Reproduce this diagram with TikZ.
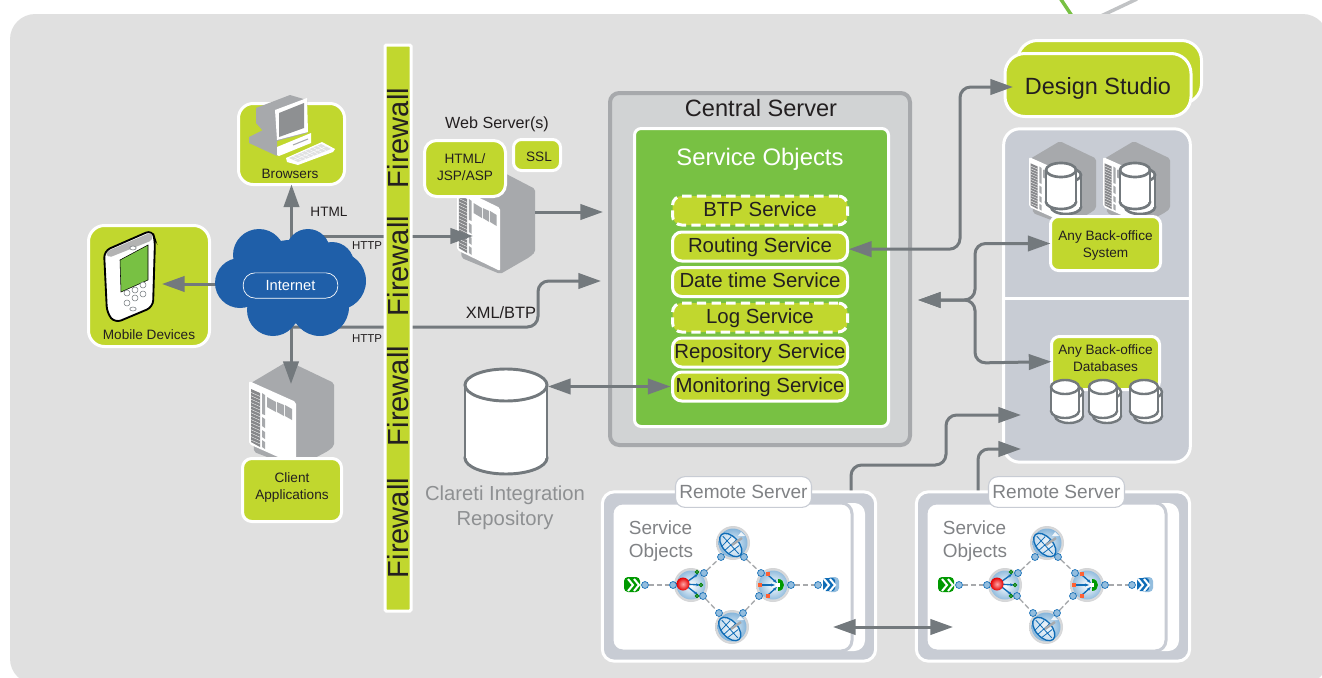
\documentclass[tikz,border=0pt]{standalone}
\usepackage{fontspec}
\setmainfont{Liberation Sans}
\usetikzlibrary{arrows.meta,calc}
\definecolor{panelgrey}{HTML}{E0E0E0}
\definecolor{limec}{HTML}{C1D72E}
\definecolor{greenc}{HTML}{78C143}
\definecolor{arrowc}{HTML}{73797D}
\definecolor{centralc}{HTML}{D1D3D4}
\definecolor{centraledge}{HTML}{A7A9AC}
\definecolor{bluepanel}{HTML}{C8CCD4}
\definecolor{inkc}{HTML}{231F20}
\definecolor{softtext}{HTML}{808285}
\definecolor{cloudc}{HTML}{1F5FA9}
\definecolor{dishc}{HTML}{0F6CB6}
\newcommand{\fs}[2]{\fontsize{#1}{#2}\selectfont}
\tikzset{
  sz/.style 2 args={minimum width=(#1-3)*0.75pt,minimum height=(#2-3)*0.75pt},
  limebox/.style={draw=white,fill=limec,line width=2.25pt,inner sep=0pt,outer sep=0pt,rounded corners=6pt,text=inkc,align=center},
  svcbox/.style={limebox,rounded corners=7pt,font=\fs{15.3}{18},text height=11.4pt,text depth=3pt},
  svcdash/.style={svcbox,dash pattern=on 7pt off 4pt},
  ghost/.style={inner sep=0pt,outer sep=0pt},
  wire/.style={draw=arrowc,line width=2.25pt,rounded corners=8pt,-{Triangle[length=17pt,width=11.5pt]}},
  wiretwo/.style={draw=arrowc,line width=2.25pt,rounded corners=8pt,{Triangle[length=17pt,width=11.5pt]}-{Triangle[length=17pt,width=11.5pt]}},
  smalltext/.style={text=inkc,inner sep=0pt,font=\fs{10.2}{12.75},align=center},
  httptext/.style={text=inkc,inner sep=0pt,font=\fs{8.6}{10}},
  softlabel/.style={text=softtext,inner sep=0pt,align=center},
  fwtext/.style={rotate=90,text=inkc,inner sep=0pt,font=\fs{21.8}{24}},
  cylline/.style={draw=arrowc,line width=#1},
  port/.style={circle,fill=dishc!45,draw=dishc,line width=.5pt,minimum size=5.2pt,inner sep=0pt},
  linkdash/.style={draw=centraledge,line width=1pt,dash pattern=on 4pt off 2pt},
}
% centre x, top y, width, height, ellipse radius, line width
\newcommand{\cylinderpic}[6]{%
  \path[fill=white,cylline=#6] (#1,#2+#4-#5) ellipse [x radius=#3/2,y radius=#5];
  \fill[white] (#1-#3/2,#2+#5) rectangle (#1+#3/2,#2+#4-#5);
  \draw[cylline=#6] (#1-#3/2,#2+#5) -- (#1-#3/2,#2+#4-#5) (#1+#3/2,#2+#5) -- (#1+#3/2,#2+#4-#5);
  \path[fill=white,cylline=#6] (#1,#2+#5) ellipse [x radius=#3/2,y radius=#5];
}
% server tower: left corner x, y, x scale, y scale
\newcommand{\serverpic}[4]{%
  \begin{scope}[shift={(#1,#2)},xscale=#3,yscale=#4]
    \fill[centraledge,rounded corners=1.5pt] (2,2) -- (39,-20) -- (85,2) -- (85,65) -- (79,70) -- (47,87) -- (5,71) -- cycle;
    \fill[white,rounded corners=1.5pt] (0,0) -- (47,21) -- (47,84) -- (0,63) -- cycle;
    \fill[centraledge!80!black] (2,8) -- (11,12) -- (11,66) -- (2,61) -- cycle;
    \foreach \k in {1,...,15} {\draw[white,line width=.25pt] (2,{8+\k*3.4}) -- (11,{12+\k*3.4});}
    \fill[centraledge] (13,12) -- (16,14) -- (16,34) -- (13,33) -- cycle;
    \fill[centraledge] (18,16) -- (27,21) -- (27,31) -- (18,26) -- cycle;
    \fill[centraledge] (28,21) -- (35,24) -- (35,35) -- (28,31) -- cycle;
    \fill[centraledge] (36,24) -- (43,28) -- (43,39) -- (36,35) -- cycle;
    \fill[centraledge] (13,36) -- (16,38) -- (16,47) -- (13,45) -- cycle;
    \fill[centraledge] (13,49) -- (16,51) -- (16,58) -- (13,56) -- cycle;
    \fill[centraledge] (13,59) -- (16,61) -- (16,68) -- (13,66) -- cycle;
  \end{scope}%
}
\newcommand{\dishpic}[2]{%
  \begin{scope}[shift={(#1,#2)}]
    \shade[inner color=white,outer color=centraledge!50] (0,0) circle [radius=17];
    \shade[inner color=dishc!10,outer color=dishc!50] (0,0) circle [radius=14.5];
    \begin{scope}[rotate=-48]
      \fill[white,opacity=.5] (0,3) ellipse [x radius=14,y radius=8];
      \draw[dishc,line width=1pt] (0,3) ellipse [x radius=14,y radius=8];
      \draw[dishc,line width=.6pt] (-6,-3) -- (-5,10) (0,-5) -- (0,11) (6,-3) -- (5,10) (-12,3) -- (12,3);
    \end{scope}
    \draw[centraledge,line width=1.8pt] (-1,2) -- (9,-5);
    \fill[white,opacity=.85] (8,-11) -- (12,-7) -- (5,-7) -- cycle;
  \end{scope}%
}
\newcommand{\hubpic}[2]{%
  \shade[inner color=white,outer color=centraledge!50] (#1,#2) circle [radius=17];
  \shade[inner color=white,outer color=dishc!45] (#1,#2) circle [radius=14.5];
}
\newcommand{\workflow}[2]{%
  \begin{scope}[shift={(#2,0)}]
    \fill[green!60!black,rounded corners=3pt] (624,577) rectangle (640,592);
    \draw[white,line width=1.5pt] (628,579) -- (633,585) -- (628,591) (634,579) -- (639,585) -- (634,591);
    \fill[dishc!45,rounded corners=3pt] (827,577) rectangle (839,592);
    \fill[dishc,rounded corners=2pt] (823,578) rectangle (835,591);
    \draw[white,line width=1.5pt] (824,579) -- (829,585) -- (824,591) (830,579) -- (835,585) -- (830,591);
    \dishpic{733}{543}
    \dishpic{732}{627}
    \hubpic{691}{585}
    \hubpic{773}{585}
    % red start gateway
    \draw[dishc,line width=1pt,-{Stealth[length=3pt]}] (684,584) -- (698,574);
    \draw[dishc,line width=1pt,-{Stealth[length=3pt]}] (684,584) -- (700,585);
    \draw[dishc,line width=1pt,-{Stealth[length=3pt]}] (684,584) -- (698,595);
    \shade[inner color=red!35!white,outer color=red!90!black] (683,584) circle [radius=6.5];
    \draw[green!50!black,line width=.8pt] (697,572) circle [radius=1.6] (701,585) circle [radius=1.6] (697,596) circle [radius=1.6];
    % green end gateway
    \draw[dishc,line width=1pt,-{Stealth[length=3pt]}] (768,575) -- (777,583);
    \draw[dishc,line width=1pt,-{Stealth[length=3pt]}] (761,585) -- (775,585);
    \draw[dishc,line width=1pt,-{Stealth[length=3pt]}] (768,595) -- (777,587);
    \fill[green!60!black] (778,579) .. controls (786,579) and (786,591) .. (778,591) -- cycle;
    \fill[white] (776,583) rectangle (780,587);
    \foreach \px/\py in {768/574,760/585,768/596} {\fill[red!55!orange!80] (\px-1.8,\py-1.8) rectangle (\px+1.8,\py+1.8);}
    % ports and links
    \node[port] (#1a) at (645,585) {};
    \node[port] (#1b) at (673,585) {};
    \node[port] (#1c) at (704,573) {};
    \node[port] (#1d) at (721,557) {};
    \node[port] (#1e) at (744,557) {};
    \node[port] (#1f) at (761,573) {};
    \node[port] (#1g) at (703,596) {};
    \node[port] (#1h) at (719,613) {};
    \node[port] (#1i) at (743,613) {};
    \node[port] (#1j) at (759,596) {};
    \node[port] (#1k) at (791,585) {};
    \node[port] (#1l) at (818,585) {};
    \draw[linkdash] (#1a) -- (#1b);
    \draw[linkdash] (#1c) -- (#1d);
    \draw[linkdash] (#1e) -- (#1f);
    \draw[linkdash] (#1g) -- (#1h);
    \draw[linkdash] (#1i) -- (#1j);
    \draw[linkdash] (#1k) -- (#1l);
  \end{scope}%
}
\begin{document}
\begin{tikzpicture}[x=0.75pt,y=-0.75pt]
\useasboundingbox (0,0) rectangle (1322,678);
\fill[white] (0,0) rectangle (1322,678);
% curves leaving the top of the panel
\draw[greenc,line width=2.6pt] (1060,-2) -- (1072,16);
\draw[centraledge!70,line width=2.6pt] (1101,16) -- (1137,-1);
% main panel
\fill[panelgrey,rounded corners=19pt] (10,14) rectangle (1328,684);

% servers and icons behind the boxes
\serverpic{249}{381}{1}{1}
\node[ghost,minimum width=58.5pt,minimum height=82.5pt] (websrv) at (496,220) {};
\serverpic{457}{187}{.92}{1}

% browsers
\node[limebox,sz={109}{84},rounded corners=11pt] (browsers) at (291.5,144) {};
\node[smalltext] (browsertext) at (290,174) {Browsers};
\fill[centraledge] (256,108) -- (290,95) -- (307,100) -- (307,133) -- (277,141) -- (263,131) -- (256,123) -- cycle;
\fill[centraledge] (249,137) -- (263,130) -- (277,138) -- (277,156) -- (249,143) -- cycle;
\fill[white] (275,110) -- (307,98) -- (308,132) -- (277,140) -- cycle;
\fill[centraledge!85!black] (279,113) -- (304,103) -- (304,128) -- (279,137) -- cycle;
\fill[white] (277,147) -- (311,133) -- (311,143) -- (279,156) -- (277,155) -- cycle;
\draw[centraledge,line width=.8pt] (293,145) -- (308,139);
\fill[white] (286,158) -- (322,142) -- (335,149) -- (333,152) -- (298,165) -- (287,162) -- cycle;
\fill[centraledge!35] (289,158) -- (321,144) -- (331,149) -- (298,162) -- cycle;
\foreach \k in {1,...,7} {\draw[white,line width=.3pt] ({289+\k*4},{158-\k*1.75}) -- ({298+\k*4},{162-\k*1.6});}
\draw[white,line width=.3pt] (294,160) -- (326,146.5);

% mobile devices
\node[limebox,sz={124}{124},rounded corners=12pt] (mobile) at (149,286) {};
\node[smalltext] (mobiletext) at (149,335) {Mobile Devices};
\draw[black,fill=white,line width=1.4pt,rounded corners=5pt] (104,251) -- (152,230) -- (155,240) -- (153,307) -- (115,323) -- (107,313) -- cycle;
\fill[panelgrey!80!black,rounded corners=3pt] (105.5,252) -- (152,232) -- (153,240) -- (108,258) -- cycle;
\fill[greenc,draw=black,line width=.4pt] (120,260) -- (148,245) -- (148,280) -- (121,292) -- cycle;
\foreach \bx/\by in {127/293,135/290,143/285,127/303,135/298,143/294} {\draw[arrowc,line width=.4pt,fill=white] (\bx,\by) circle [radius=3];}
\draw[arrowc,line width=.4pt,fill=white] (133,248) ellipse [x radius=3.2,y radius=2];
\draw[arrowc,line width=.4pt,fill=white] (133,309) ellipse [x radius=3.2,y radius=2];

% client applications
\node[limebox,sz={102}{66},rounded corners=7pt] (client) at (292,490) {};
\node[smalltext] (clienttext) at (292,487.5) {Client\\Applications};

% web server boxes
\node[limebox,sz={84}{59},rounded corners=9pt] (htmlbox) at (465,168.5) {};
\node[smalltext] (htmltext) at (465,167) {HTML/\\JSP/ASP};
\node[limebox,sz={50}{34}] (sslbox) at (537,155) {};
\node[smalltext] (ssltext) at (539,157) {SSL};
\node[text=inkc,inner sep=0pt,font=\fs{12.1}{14}] (webtext) at (497,124.5) {Web Server(s)};

% central server
\node[draw=centraledge,fill=centralc,line width=3pt,minimum width=225pt,minimum height=264pt,rounded corners=7pt,inner sep=0pt] (central) at (760,269) {};
\node[text=inkc,inner sep=0pt,font=\fs{17.7}{20}] (centraltext) at (761,108) {Central Server};
\node[limebox,fill=greenc,sz={257}{301},rounded corners=5pt] (objects) at (761.5,277.5) {};
\node[text=white,inner sep=0pt,font=\fs{17.9}{22}] (objectstext) at (760,159.5) {Service Objects};
\node[svcdash,sz={178}{32}] (btp) at (760,210.5) {BTP Service};
\node[svcbox,sz={178}{32}] (routing) at (760,246.5) {Routing Service};
\node[svcbox,sz={178}{32}] (datetime) at (760,282) {Date time Service};
\node[svcdash,sz={178}{32}] (logsvc) at (760,317.5) {Log Service};
\node[svcbox,sz={178}{32}] (repository) at (760,352.5) {Repository Service};
\node[svcbox,sz={178}{32}] (monitoring) at (760,386.5) {Monitoring Service};

% clareti repository
\node[ghost,minimum width=63pt,minimum height=80pt] (clareti) at (506,421.5) {};
\cylinderpic{506}{369}{82}{105}{16}{2.2pt}
\node[softlabel,text=centraledge!85!black,font=\fs{15.2}{18.75}] (claretitext) at (505,507.5) {Clareti Integration\\Repository};

% design studio
\node[limebox,sz={187}{66},rounded corners=15pt] (dsback) at (1109.5,72) {};
\node[limebox,sz={189}{66},rounded corners=15pt,font=\fs{17.6}{20},text height=14pt,text depth=0pt] (design) at (1098,85) {Design Studio};

% back office panel
\node[draw=white,fill=bluepanel,line width=2.25pt,minimum width=140pt,minimum height=250pt,rounded corners=12pt,inner sep=0pt] (backoffice) at (1097,295.5) {};
\draw[white,line width=2.25pt] (backoffice.west |- 0,298) -- (backoffice.east |- 0,298);
\foreach \sx in {0,74} {
  \serverpic{1029+\sx}{157}{.79}{.79}
  \cylinderpic{1066+\sx}{168}{30}{46}{7}{2pt}
  \cylinderpic{1061+\sx}{163}{30}{46}{7}{2pt}
}
\node[limebox,sz={113}{57}] (bosystem) at (1105.5,243.5) {};
\node[smalltext] (bosystemtext) at (1105.5,245.5) {Any Back-office\\System};
\node[limebox,sz={111}{56}] (bodata) at (1105.5,363) {};
\node[smalltext] (bodatatext) at (1105.5,358) {Any Back-office\\Databases};
\foreach \sx in {1065,1103,1144} {
  \cylinderpic{\sx+4}{385}{28}{38}{7}{1.8pt}
  \cylinderpic{\sx}{380}{28}{38}{7}{1.8pt}
}

% remote servers
\foreach \rn/\rx in {remoteone/739,remotetwo/1053} {
  \node[draw=white,fill=bluepanel,line width=2.25pt,minimum width=205pt,minimum height=127pt,rounded corners=9pt,inner sep=0pt] (\rn) at (\rx,576.5) {};
  \fill[white,rounded corners=8pt] (\rx-127,503) rectangle (\rx+126,651);
  \draw[bluepanel,fill=white,line width=2.25pt,rounded corners=8pt] (\rx-127,503) rectangle (\rx+113,651);
  \node[softlabel,font=\fs{14.2}{17.25},align=left] at (\rx-78,541) {Service\\Objects};
}
\workflow{wa}{0}
\workflow{wb}{314}
\node[draw=bluepanel,fill=white,line width=.8pt,rounded corners=7pt,minimum width=102pt,minimum height=23pt,inner sep=0pt,text=softtext,font=\fs{14.3}{17}] (labelone) at (743.5,492) {Remote Server};
\node[draw=bluepanel,fill=white,line width=.8pt,rounded corners=7pt,minimum width=102pt,minimum height=23pt,inner sep=0pt,text=softtext,font=\fs{14.3}{17}] (labeltwo) at (1056.5,492) {Remote Server};

% connector end points
\node[ghost,minimum width=113pt,minimum height=80pt] (cloud) at (290.5,282.5) {};
\coordinate (mobtip) at (162,284);
\coordinate (cltip) at (291,384);
\coordinate (wsin) at (473,236);
\coordinate (xmlbend) at (538,327);
\coordinate (xmltip) at (601,281);
\coordinate (ctip) at (603,212);
\coordinate (dsturn) at (960,249);
\coordinate (dstip) at (1013,87);
\coordinate (lefttip) at (918,300);
\coordinate (junction) at (975,300);
\coordinate (ra) at (946,465);
\coordinate (ratip) at (1021,415);
\coordinate (rbtip) at (1021,449);
\coordinate (botl) at (833,627);
\coordinate (botr) at (953,627);

% connectors
\draw[wire] (browsers.south |- cloud.center) -- (browsers.south);
\draw[wire] (cloud.center |- mobtip) -- (mobtip);
\draw[wire] (cltip |- cloud.center) -- (cltip);
\draw[wire] (cloud.center |- wsin) -- (wsin);
\draw[wire] (cloud.center |- xmlbend) -- (xmlbend) |- (xmltip);
\draw[wire] (websrv.east |- ctip) -- (ctip);
\draw[wiretwo] (clareti.east |- monitoring.west) -- ([xshift=-1.5pt]monitoring.west);
\draw[wiretwo] ([yshift=-2pt,xshift=1pt]routing.east) -| (dsturn |- dstip) -- (dstip);
\draw[wiretwo] (lefttip) -- (junction) -- (junction |- bosystem.west) -- (bosystem.west);
\draw[wiretwo] (lefttip) -- (junction) -- (junction |- bodata.west) -- ([yshift=1pt]bodata.west);
\draw[wire] ([xshift=84pt]remoteone.north) |- (ra) |- (ratip);
\draw[wire] ([xshift=-56.25pt]remotetwo.north) |- (rbtip);
\draw[wiretwo] (botl) -- (botr);

% cloud
\fill[cloudc] (240,283) circle [radius=25] (259,255) circle [radius=26] (308,251) circle [radius=22]
  (332,264) circle [radius=22] (337,281) circle [radius=29] (320,307) circle [radius=29] (273,310) circle [radius=26] (290,282) circle [radius=42];
\node[draw=white,line width=.5pt,rounded corners=9pt,minimum width=71pt,minimum height=19pt,inner sep=0pt,text=white,font=\fs{11}{13}] (internet) at (290.5,285.5) {Internet};

% firewall
\node[limebox,sz={29}{569},rounded corners=1pt] (firewall) at (398,328) {};
\foreach \fy in {138,266,396,528} {\node[fwtext] at (398,\fy) {Firewall};}

% connector labels
\node[smalltext] (htmllabel) at (329,212) {HTML};
\node[httptext] (httpone) at (367,246) {HTTP};
\node[httptext] (httptwo) at (367,339) {HTTP};
\node[text=inkc,inner sep=0pt,font=\fs{12.3}{14}] (xmllabel) at (501,312.5) {XML/BTP};
\end{tikzpicture}
\end{document}
